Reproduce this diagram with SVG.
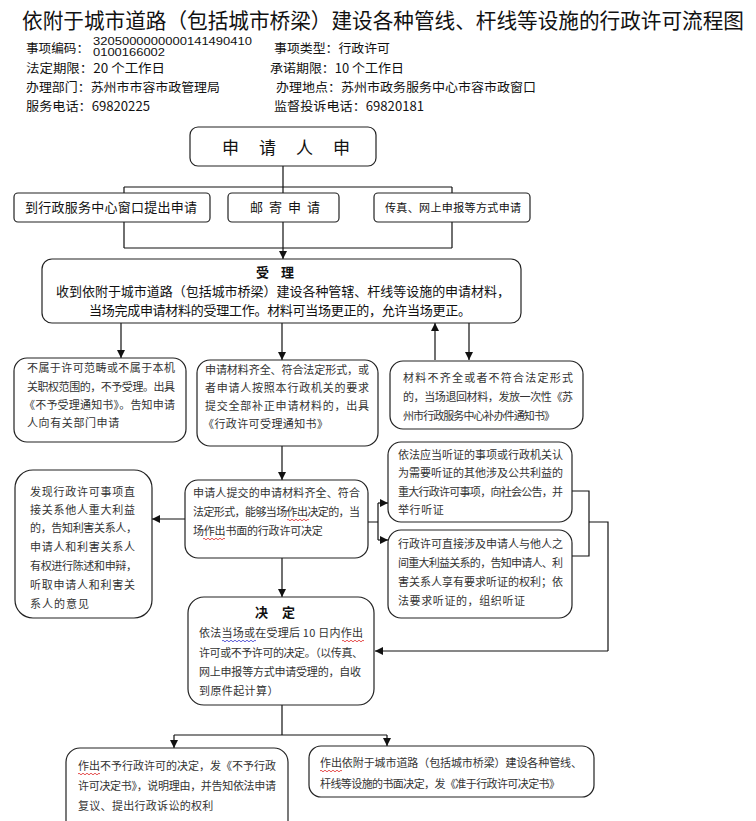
<svg xmlns="http://www.w3.org/2000/svg" width="756" height="821" viewBox="0 0 756 821">
<style>
text{font-family:"Noto Sans CJK SC","Liberation Sans",sans-serif;fill:#111}
.hd{font-size:12.5px}
.num{font-family:"Liberation Sans",sans-serif;font-size:10.5px}
.bx{fill:#fff;stroke:#222;stroke-width:1.2}
.t{font-size:11px;fill:#333}
.b{font-size:13px}
.ttl{font-size:13px;font-weight:bold}
.ln{fill:none;stroke:#111;stroke-width:1.2}
.wr{fill:none;stroke:#d22;stroke-width:0.8}
.wb{fill:none;stroke:#33c;stroke-width:0.8}
</style>
<defs>
<marker id="ah" markerWidth="9" markerHeight="9" refX="8" refY="4.5" orient="auto" markerUnits="userSpaceOnUse">
<path d="M0,0.5 L8,4.5 L0,8.5 z" fill="#111"/>
</marker>
</defs>
<rect width="756" height="821" fill="#fff"/>

<g id="header">
<text x="22" y="28" font-size="21" textLength="722" lengthAdjust="spacingAndGlyphs">依附于城市道路（包括城市桥梁）建设各种管线、杆线等设施的行政许可流程图</text>
<text class="hd" x="26" y="53" textLength="63" lengthAdjust="spacingAndGlyphs">事项编码：</text>
<text class="num" x="93" y="44.5" textLength="159" lengthAdjust="spacingAndGlyphs">3205000000000141490410</text>
<text class="num" x="93" y="56" textLength="72" lengthAdjust="spacingAndGlyphs">0100166002</text>
<text class="hd" x="274" y="53" textLength="116" lengthAdjust="spacingAndGlyphs">事项类型：行政许可</text>
<text class="hd" x="26" y="73" textLength="139" lengthAdjust="spacingAndGlyphs">法定期限：20 个工作日</text>
<text class="hd" x="270" y="73" textLength="134" lengthAdjust="spacingAndGlyphs">承诺期限：10 个工作日</text>
<text class="hd" x="26" y="92" textLength="194" lengthAdjust="spacingAndGlyphs">办理部门：苏州市市容市政管理局</text>
<text class="hd" x="276" y="92" textLength="260" lengthAdjust="spacingAndGlyphs">办理地点：苏州市政务服务中心市容市政窗口</text>
<text class="hd" x="26" y="111" textLength="124" lengthAdjust="spacingAndGlyphs">服务电话：69820225</text>
<text class="hd" x="274" y="111" textLength="150" lengthAdjust="spacingAndGlyphs">监督投诉电话：69820181</text>
</g>

<g id="connectors">
<path class="ln" d="M283,166 V187 M124,187 H452 M124,187 V193 M283,187 V193 M452,187 V193"/>
<path class="ln" d="M124,222 V248 M283,222 V248 M452,222 V248 M124,248 H452"/>
<path class="ln" d="M283,248 V259" marker-end="url(#ah)"/>
<path class="ln" d="M121,323 V358" marker-end="url(#ah)"/>
<path class="ln" d="M282,323 V360" marker-end="url(#ah)"/>
<path class="ln" d="M435,360 V323" marker-end="url(#ah)"/>
<path class="ln" d="M469,323 V360" marker-end="url(#ah)"/>
<path class="ln" d="M282,446 V480" marker-end="url(#ah)"/>
<path class="ln" d="M185,519 H152" marker-end="url(#ah)"/>
<path class="ln" d="M368,522 H378 M378,503 V540"/>
<path class="ln" d="M378,503 H388" marker-end="url(#ah)"/>
<path class="ln" d="M378,540 H388" marker-end="url(#ah)"/>
<path class="ln" d="M572,491 H589 V556 H572 M589,522 H608 V651"/>
<path class="ln" d="M608,651 H375" marker-end="url(#ah)"/>
<path class="ln" d="M282,558 V597" marker-end="url(#ah)"/>
<path class="ln" d="M282,705 V735 M174,735 H387"/>
<path class="ln" d="M174,735 V748" marker-end="url(#ah)"/>
<path class="ln" d="M387,735 V746" marker-end="url(#ah)"/>
</g>

<g id="apply">
<rect class="bx" x="190" y="127" width="186" height="39" rx="8"/>
<text x="222" y="154" font-size="17" letter-spacing="20">申请人申</text>
</g>

<g id="window">
<rect class="bx" x="14" y="193" width="196" height="29" rx="4"/>
<text class="b" x="25" y="212" textLength="172" lengthAdjust="spacing">到行政服务中心窗口提出申请</text>
</g>
<g id="mail">
<rect class="bx" x="228" y="193" width="111" height="29" rx="4"/>
<text class="b" x="250" y="212" letter-spacing="6">邮寄申请</text>
</g>
<g id="fax">
<rect class="bx" x="374" y="193" width="156" height="29" rx="4"/>
<text x="385" y="212" font-size="11" textLength="136" lengthAdjust="spacing">传真、网上申报等方式申请</text>
</g>

<g id="accept">
<rect class="bx" x="42" y="259" width="479" height="64" rx="10"/>
<text class="ttl" x="281" y="277" text-anchor="middle" letter-spacing="12">受理</text>
<text class="b" x="56" y="296" textLength="454" lengthAdjust="spacing">收到依附于城市道路（包括城市桥梁）建设各种管辖、杆线等设施的申请材料，</text>
<text class="b" x="89" y="315" textLength="382" lengthAdjust="spacing">当场完成申请材料的受理工作。材料可当场更正的，允许当场更正。</text>
</g>

<g id="reject">
<rect class="bx" x="14" y="358" width="172" height="84" rx="13"/>
<text class="t" x="27" y="372" textLength="148" lengthAdjust="spacing">不属于许可范畴或不属于本机</text>
<text class="t" x="27" y="391" textLength="148" lengthAdjust="spacing">关职权范围的，不予受理。出具</text>
<text class="t" x="24" y="409" textLength="151" lengthAdjust="spacing">《不予受理通知书》。告知申请</text>
<text class="t" x="27" y="427" letter-spacing="0.6">人向有关部门申请</text>
</g>

<g id="complete">
<rect class="bx" x="197" y="360" width="181" height="86" rx="13"/>
<text class="t" x="205" y="374" textLength="164" lengthAdjust="spacing">申请材料齐全、符合法定形式，或</text>
<text class="t" x="205" y="392" textLength="164" lengthAdjust="spacing">者申请人按照本行政机关的要求</text>
<text class="t" x="205" y="410" textLength="164" lengthAdjust="spacing">提交全部补正申请材料的，出具</text>
<text class="t" x="203" y="428" letter-spacing="0.4">《行政许可受理通知书》</text>
</g>

<g id="incomplete">
<rect class="bx" x="390" y="361" width="193" height="68" rx="13"/>
<text class="t" x="403" y="382" textLength="170" lengthAdjust="spacing">材料不齐全或者不符合法定形式</text>
<text class="t" x="403" y="401" textLength="170" lengthAdjust="spacing">的，当场退回材料，发放一次性《苏</text>
<text class="t" x="403" y="420" textLength="152" lengthAdjust="spacing">州市行政服务中心补办件通知书》</text>
</g>

<g id="notify">
<rect class="bx" x="15" y="470" width="137" height="148" rx="18"/>
<text class="t" x="30" y="496" textLength="105" lengthAdjust="spacing">发现行政许可事项直</text>
<text class="t" x="30" y="514" textLength="105" lengthAdjust="spacing">接关系他人重大利益</text>
<text class="t" x="30" y="532" textLength="107" lengthAdjust="spacing">的，告知利害关系人，</text>
<text class="t" x="30" y="551" textLength="105" lengthAdjust="spacing">申请人和利害关系人</text>
<text class="t" x="30" y="570" textLength="107" lengthAdjust="spacing">有权进行陈述和申辩，</text>
<text class="t" x="30" y="589" textLength="105" lengthAdjust="spacing">听取申请人和利害关</text>
<text class="t" x="30" y="608" letter-spacing="1">系人的意见</text>
</g>

<g id="onsite">
<rect class="bx" x="185" y="480" width="183" height="78" rx="13"/>
<text class="t" x="193" y="497" textLength="167" lengthAdjust="spacing">申请人提交的申请材料齐全、符合</text>
<text class="t" x="193" y="516" textLength="167" lengthAdjust="spacing">法定形式，能够当场作出决定的，当</text>
<text class="t" x="193" y="535" letter-spacing="-0.2">场作出书面的行政许可决定</text>
<path class="wr" d="M287,520 q1,-1.6 2,0 t2,0 t2,0 t2,0 t2,0 t2,0 t2,0 t2,0 t2,0 t2,0 t2,0"/>
<path class="wr" d="M203,539 q1,-1.6 2,0 t2,0 t2,0 t2,0 t2,0 t2,0 t2,0 t2,0 t2,0 t2,0 t2,0"/>
</g>

<g id="hearing1">
<rect class="bx" x="388" y="442" width="184" height="80" rx="13"/>
<text class="t" x="398" y="459" textLength="165" lengthAdjust="spacing">依法应当听证的事项或行政机关认</text>
<text class="t" x="398" y="477" textLength="165" lengthAdjust="spacing">为需要听证的其他涉及公共利益的</text>
<text class="t" x="398" y="496" textLength="165" lengthAdjust="spacing">重大行政许可事项，向社会公告，并</text>
<text class="t" x="398" y="514" letter-spacing="0.6">举行听证</text>
</g>

<g id="hearing2">
<rect class="bx" x="388" y="530" width="184" height="88" rx="13"/>
<text class="t" x="398" y="548" textLength="165" lengthAdjust="spacing">行政许可直接涉及申请人与他人之</text>
<text class="t" x="398" y="567" textLength="165" lengthAdjust="spacing">间重大利益关系的，告知申请人、利</text>
<text class="t" x="398" y="586" textLength="165" lengthAdjust="spacing">害关系人享有要求听证的权利；依</text>
<text class="t" x="398" y="605" letter-spacing="0.6">法要求听证的，组织听证</text>
</g>

<g id="decide">
<rect class="bx" x="188" y="597" width="186" height="108" rx="16"/>
<text class="ttl" x="282" y="617" text-anchor="middle" letter-spacing="14">决定</text>
<text class="t" x="199" y="637" textLength="164" lengthAdjust="spacing">依法当场或在受理后 10 日内作出</text>
<text class="t" x="199" y="657" textLength="164" lengthAdjust="spacing">许可或不予许可的决定。（以传真、</text>
<text class="t" x="199" y="676" textLength="162" lengthAdjust="spacing">网上申报等方式申请受理的，自收</text>
<text class="t" x="199" y="695" letter-spacing="0.4">到原件起计算）</text>
<path class="wb" d="M222,641 q1,-1.6 2,0 t2,0 t2,0 t2,0 t2,0 t2,0 t2,0 t2,0 t2,0 t2,0 t2,0 t2,0 t2,0 t2,0 t2,0 t2,0 t2,0"/>
<path class="wr" d="M342,641 q1,-1.6 2,0 t2,0 t2,0 t2,0 t2,0 t2,0 t2,0 t2,0 t2,0 t2,0 t2,0"/>
</g>

<g id="deny">
<rect class="bx" x="66" y="748" width="222" height="90" rx="14"/>
<text class="t" x="78" y="770" textLength="198" lengthAdjust="spacing">作出不予行政许可的决定，发《不予行政</text>
<text class="t" x="78" y="790" textLength="198" lengthAdjust="spacing">许可决定书》，说明理由，并告知依法申请</text>
<text class="t" x="78" y="810" letter-spacing="0.3">复议、提出行政诉讼的权利</text>
<path class="wr" d="M78,774 q1,-1.6 2,0 t2,0 t2,0 t2,0 t2,0 t2,0 t2,0 t2,0 t2,0 t2,0 t2,0"/>
</g>

<g id="grant">
<rect class="bx" x="309" y="746" width="285" height="51" rx="12"/>
<text class="t" x="320" y="767" textLength="262" lengthAdjust="spacing">作出依附于城市道路（包括城市桥梁）建设各种管线、</text>
<text class="t" x="320" y="788" textLength="240" lengthAdjust="spacing">杆线等设施的书面决定，发《准于行政许可决定书》</text>
<path class="wr" d="M320,771 q1,-1.6 2,0 t2,0 t2,0 t2,0 t2,0 t2,0 t2,0 t2,0 t2,0 t2,0 t2,0"/>
</g>
</svg>
